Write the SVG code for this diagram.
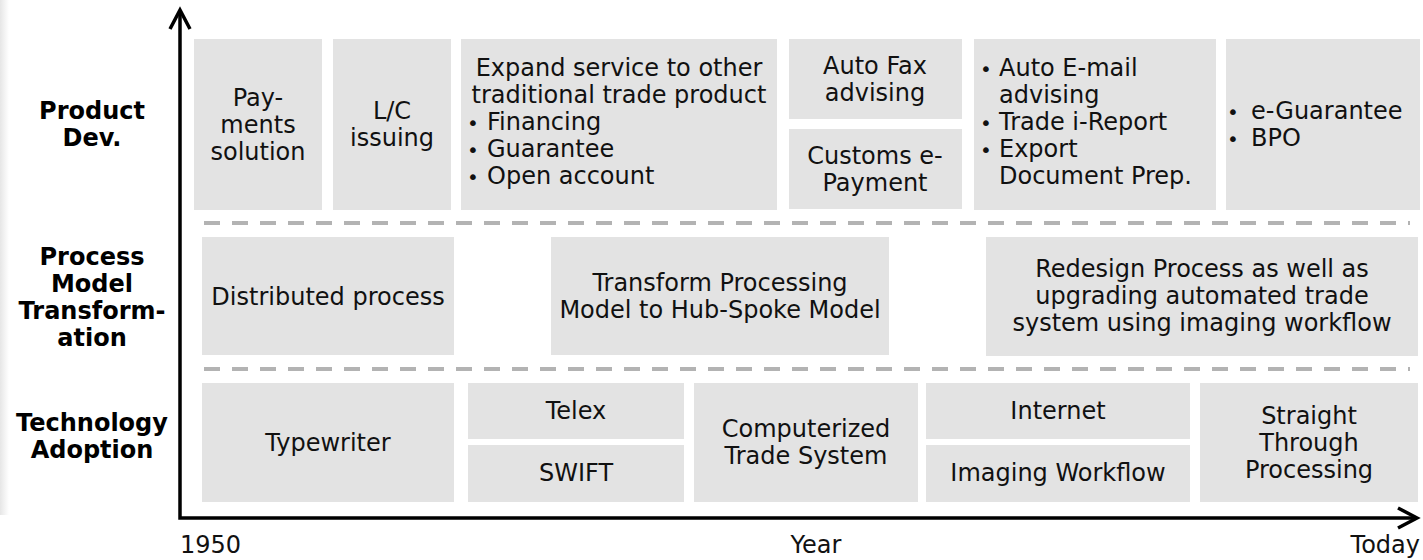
<svg xmlns="http://www.w3.org/2000/svg" width="1423" height="560" viewBox="0 0 1423 560">
<defs>
<linearGradient id="shadow" x1="0" y1="0" x2="1" y2="0">
<stop offset="0" stop-color="#e6e6e6"/>
<stop offset="1" stop-color="#ffffff"/>
</linearGradient>
<style>
.box{fill:#e3e3e3;}
.t{font-family:"DejaVu Sans",Verdana,sans-serif;font-size:24px;fill:#111;text-anchor:middle;}
.tl{font-family:"DejaVu Sans",Verdana,sans-serif;font-size:24px;fill:#111;text-anchor:start;}
.b{font-size:20px;}
.h{font-family:"DejaVu Sans",Verdana,sans-serif;font-size:24px;font-weight:bold;fill:#000;text-anchor:middle;}
.dash{stroke:#b3b3b3;stroke-width:4;stroke-dasharray:16 12;fill:none;}
.axis{stroke:#000;stroke-width:3.5;fill:none;}
</style>
</defs>
<rect x="0" y="0" width="9" height="515" fill="url(#shadow)"/>

<g id="row-labels">
<text class="h" x="92" y="119">Product</text>
<text class="h" x="92" y="146">Dev.</text>
<text class="h" x="92" y="265">Process</text>
<text class="h" x="92" y="292">Model</text>
<text class="h" x="92" y="319">Transform-</text>
<text class="h" x="92" y="346">ation</text>
<text class="h" x="92" y="431">Technology</text>
<text class="h" x="92" y="458">Adoption</text>
</g>

<g id="separators">
<line class="dash" x1="204" y1="223" x2="1410" y2="223"/>
<line class="dash" x1="204" y1="369" x2="1410" y2="369"/>
</g>

<g id="payments">
<rect class="box" x="194" y="39" width="128" height="171"/>
<text class="t" x="258" y="106">Pay-</text>
<text class="t" x="258" y="133">ments</text>
<text class="t" x="258" y="160">solution</text>
</g>
<g id="lc">
<rect class="box" x="333" y="39" width="118" height="171"/>
<text class="t" x="392" y="119">L/C</text>
<text class="t" x="392" y="146">issuing</text>
</g>
<g id="expand">
<rect class="box" x="461" y="39" width="316" height="171"/>
<text class="t" x="619" y="76">Expand service to other</text>
<text class="t" x="619" y="103">traditional trade product</text>
<text class="tl" y="130"><tspan class="b" x="467">• </tspan><tspan x="487">Financing</tspan></text>
<text class="tl" y="157"><tspan class="b" x="467">• </tspan><tspan x="487">Guarantee</tspan></text>
<text class="tl" y="184"><tspan class="b" x="467">• </tspan><tspan x="487">Open account</tspan></text>
</g>
<g id="autofax">
<rect class="box" x="789" y="39" width="173" height="80"/>
<text class="t" x="875" y="74">Auto Fax</text>
<text class="t" x="875" y="101">advising</text>
</g>
<g id="customs">
<rect class="box" x="789" y="129" width="173" height="80"/>
<text class="t" x="875" y="164">Customs e-</text>
<text class="t" x="875" y="191">Payment</text>
</g>
<g id="autoemail">
<rect class="box" x="974" y="39" width="242" height="171"/>
<text class="tl" y="76"><tspan class="b" x="980">• </tspan><tspan x="999">Auto E-mail</tspan></text>
<text class="tl" x="999" y="103">advising</text>
<text class="tl" y="130"><tspan class="b" x="980">• </tspan><tspan x="999">Trade i-Report</tspan></text>
<text class="tl" y="157"><tspan class="b" x="980">• </tspan><tspan x="999">Export</tspan></text>
<text class="tl" x="999" y="184">Document Prep.</text>
</g>
<g id="eguarantee">
<rect class="box" x="1226" y="39" width="194" height="171"/>
<text class="tl" y="119"><tspan class="b" x="1227">• </tspan><tspan x="1251">e-Guarantee</tspan></text>
<text class="tl" y="146"><tspan class="b" x="1227">• </tspan><tspan x="1251">BPO</tspan></text>
</g>

<g id="distributed">
<rect class="box" x="202" y="237" width="252" height="118"/>
<text class="t" x="328" y="305">Distributed process</text>
</g>
<g id="hubspoke">
<rect class="box" x="551" y="237" width="338" height="118"/>
<text class="t" x="720" y="291">Transform Processing</text>
<text class="t" x="720" y="318">Model to Hub-Spoke Model</text>
</g>
<g id="redesign">
<rect class="box" x="986" y="237" width="432" height="119"/>
<text class="t" x="1202" y="277">Redesign Process as well as</text>
<text class="t" x="1202" y="304">upgrading automated trade</text>
<text class="t" x="1202" y="331">system using imaging workflow</text>
</g>

<g id="typewriter">
<rect class="box" x="202" y="383" width="252" height="119"/>
<text class="t" x="328" y="451">Typewriter</text>
</g>
<g id="telex">
<rect class="box" x="468" y="383" width="216" height="56"/>
<text class="t" x="576" y="419">Telex</text>
</g>
<g id="swift">
<rect class="box" x="468" y="445" width="216" height="57"/>
<text class="t" x="576" y="481">SWIFT</text>
</g>
<g id="computerized">
<rect class="box" x="694" y="383" width="224" height="119"/>
<text class="t" x="806" y="437">Computerized</text>
<text class="t" x="806" y="464">Trade System</text>
</g>
<g id="internet">
<rect class="box" x="926" y="383" width="264" height="56"/>
<text class="t" x="1058" y="419">Internet</text>
</g>
<g id="imaging">
<rect class="box" x="926" y="445" width="264" height="57"/>
<text class="t" x="1058" y="481">Imaging Workflow</text>
</g>
<g id="stp">
<rect class="box" x="1200" y="383" width="218" height="119"/>
<text class="t" x="1309" y="424">Straight</text>
<text class="t" x="1309" y="451">Through</text>
<text class="t" x="1309" y="478">Processing</text>
</g>

<g id="connectors">
<polyline class="axis" points="180,10 180,518 1416,518"/>
<polyline class="axis" points="170,29 180,10 190,29"/>
<polyline class="axis" points="1398,508 1417,518 1398,528"/>
</g>

<g id="axis-labels">
<text class="tl" x="180" y="553">1950</text>
<text class="t" x="816" y="553">Year</text>
<text class="t" x="1420" y="553" style="text-anchor:end">Today</text>
</g>
</svg>
